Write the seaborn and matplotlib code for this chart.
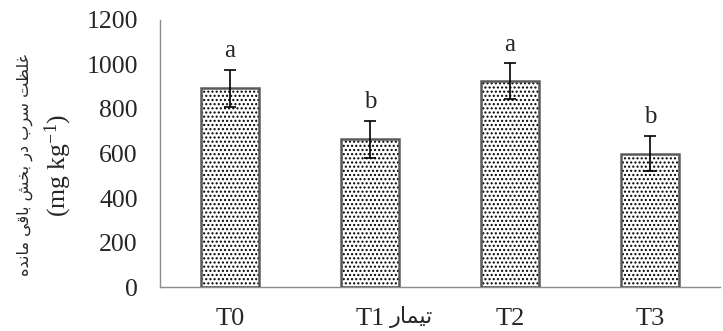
import numpy as np
import pandas as pd
import seaborn as sns
import matplotlib.pyplot as plt
from matplotlib.patches import Rectangle

# data
treatments = ['T0', 'T1', 'T2', 'T3']
lead_means = [893, 663, 925, 600]
lead_errors = [82, 82, 80, 80]
letters = ['a', 'b', 'a', 'b']
y_ticks = [0, 200, 400, 600, 800, 1000, 1200]

y_title_fa = 'غلظت سرب در بخش باقی مانده'
y_unit = r'(mg kg$^{-1}$)'
x_title_fa = 'تیمار'

# matplotlib does no arabic shaping, so map letters to presentation forms
# (isolated, final, initial, medial)
forms = {
    'ا': (0xFE8D, 0xFE8E, None, None),
    'ب': (0xFE8F, 0xFE90, 0xFE91, 0xFE92),
    'ت': (0xFE95, 0xFE96, 0xFE97, 0xFE98),
    'خ': (0xFEA5, 0xFEA6, 0xFEA7, 0xFEA8),
    'د': (0xFEA9, 0xFEAA, None, None),
    'ر': (0xFEAD, 0xFEAE, None, None),
    'س': (0xFEB1, 0xFEB2, 0xFEB3, 0xFEB4),
    'ش': (0xFEB5, 0xFEB6, 0xFEB7, 0xFEB8),
    'ظ': (0xFEC5, 0xFEC6, 0xFEC7, 0xFEC8),
    'غ': (0xFECD, 0xFECE, 0xFECF, 0xFED0),
    'ق': (0xFED5, 0xFED6, 0xFED7, 0xFED8),
    'ل': (0xFEDD, 0xFEDE, 0xFEDF, 0xFEE0),
    'م': (0xFEE1, 0xFEE2, 0xFEE3, 0xFEE4),
    'ن': (0xFEE5, 0xFEE6, 0xFEE7, 0xFEE8),
    'ه': (0xFEE9, 0xFEEA, 0xFEEB, 0xFEEC),
    'ی': (0xFEEF, 0xFEF0, 0xFEF3, 0xFEF4),
}


def shape_fa(text):
    out = []
    for i, ch in enumerate(text):
        if ch not in forms:
            out.append(ch)
            continue
        prev = text[i - 1] if i > 0 else ''
        nxt = text[i + 1] if i < len(text) - 1 else ''
        join_prev = prev in forms and forms[prev][2] is not None
        join_next = nxt in forms and forms[ch][2] is not None
        iso, fin, ini, med = forms[ch]
        if join_prev and join_next:
            code = med
        elif join_prev:
            code = fin
        elif join_next:
            code = ini
        else:
            code = iso
        out.append(chr(code))
    return ''.join(out)[::-1]


df = pd.DataFrame({'treatment': treatments, 'lead': lead_means})

sns.set_style('white')
plt.rcParams['font.family'] = ['Liberation Serif', 'DejaVu Sans']
plt.rcParams['mathtext.fontset'] = 'custom'
plt.rcParams['mathtext.rm'] = 'Liberation Serif'
plt.rcParams['mathtext.it'] = 'Liberation Serif:italic'
plt.rcParams['hatch.linewidth'] = 1.0

fig = plt.figure(figsize=(7.23, 3.31), dpi=100)
ax = fig.add_axes([0.2213, 0.1329, 0.7746, 0.8067])

sns.barplot(data=df, x='treatment', y='lead', color='white', width=0.41,
            edgecolor='black', linewidth=0, hatch='....', ax=ax)

# gray outline on top of the dotted fill
for p in list(ax.patches):
    ax.add_patch(Rectangle(p.get_xy(), p.get_width(), p.get_height(),
                           fill=False, edgecolor='#5a5a5a', linewidth=1.8, zorder=3))

x_pos = np.arange(len(treatments))
ax.errorbar(x_pos, lead_means, yerr=lead_errors, fmt='none', ecolor='black',
            elinewidth=1.2, capsize=4.5, capthick=1.2, zorder=4)

for x, m, e, lab in zip(x_pos, lead_means, lead_errors, letters):
    ax.text(x, m + e + 35, lab, ha='center', va='bottom', fontsize=18,
            family='Liberation Serif')

ax.set_xlim(-0.5, 3.5)
ax.set_ylim(0, 1200)
ax.set_yticks(y_ticks)
ax.set_xlabel('')
ax.set_ylabel('')
ax.tick_params(axis='y', length=0, pad=16, labelsize=18.5)
ax.tick_params(axis='x', length=0, pad=15, labelsize=19)

for side in ['top', 'right']:
    ax.spines[side].set_visible(False)
for side in ['left', 'bottom']:
    ax.spines[side].set_color('#8c8c8c')
    ax.spines[side].set_linewidth(1.0)

fig.text(0.035, 0.50, shape_fa(y_title_fa), rotation=90, ha='center', va='center',
         fontsize=11.6, family=['DejaVu Sans'])
fig.text(0.08, 0.50, y_unit, rotation=90, ha='center', va='center', fontsize=18.5)
fig.text(0.5685, 0.042, shape_fa(x_title_fa), ha='center', va='center',
         fontsize=16, family=['DejaVu Sans'])

fig.savefig('out.png', dpi=100)
